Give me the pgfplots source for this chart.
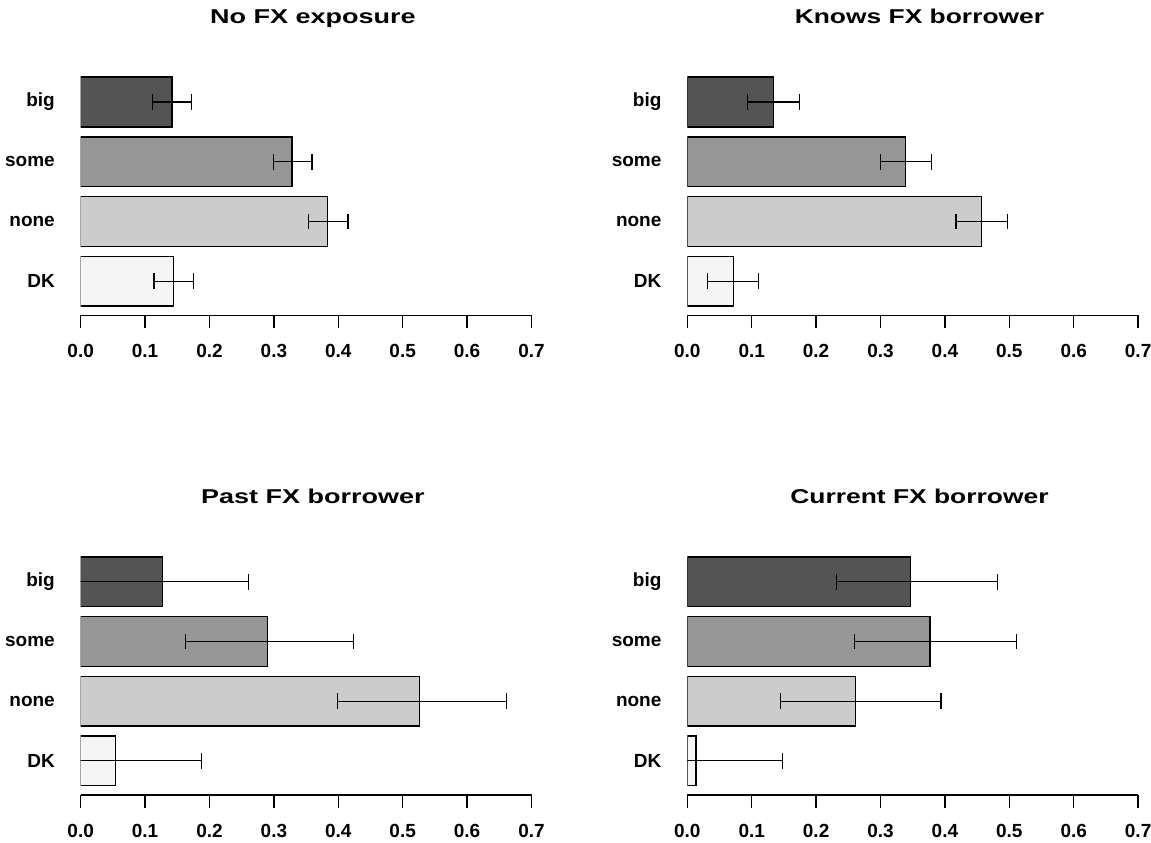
\documentclass[border=0pt]{standalone}
\usepackage{pgfplots}
\pgfplotsset{compat=1.18}
\usepackage{pgfplotstable}
\usepackage{graphicx}
\usepackage{fontspec}
\setmainfont{Liberation Sans}

\definecolor{cbig}{HTML}{545454}
\definecolor{csome}{HTML}{969696}
\definecolor{cnone}{HTML}{CCCCCC}
\definecolor{cdk}{HTML}{F5F5F5}

% rows: DK, none, some, big
\pgfplotstableread{
pos val lo hi
0   0.144  0.114  0.175
1.2 0.383  0.354  0.415
2.4 0.328  0.299  0.359
3.6 0.142  0.112  0.172
}\tabA
\pgfplotstableread{
pos val lo hi
0   0.0715 0.031  0.111
1.2 0.457  0.417  0.497
2.4 0.339  0.300  0.379
3.6 0.134  0.094  0.174
}\tabB
\pgfplotstableread{
pos val lo hi
0   0.054  -0.080 0.188
1.2 0.526  0.399  0.661
2.4 0.290  0.163  0.424
3.6 0.127  -0.007 0.261
}\tabC
\pgfplotstableread{
pos val lo hi
0   0.0135 -0.120 0.148
1.2 0.261  0.145  0.394
2.4 0.377  0.260  0.511
3.6 0.347  0.232  0.482
}\tabD

\newcommand{\onebar}[4]{%
  \addplot[xbar, bar shift=0pt, bar width=1, fill=#4, draw=black, line width=1.4pt,
    error bars/.cd, x dir=both, x explicit,
    error bar style={line width=1.1pt, black},
    error mark=|,
    error mark options={black, line width=1.3pt, mark size=7.8pt}]
  table[x=val, y=pos,
    x error plus expr=\thisrow{hi}-\thisrow{val},
    x error minus expr=\thisrow{val}-\thisrow{lo},
    skip coords between index={0}{#2},
    skip coords between index={#3}{4}] {#1};
}
\newcommand{\allbars}[1]{%
  \onebar{#1}{0}{1}{cdk}
  \onebar{#1}{1}{2}{cnone}
  \onebar{#1}{2}{3}{csome}
  \onebar{#1}{3}{4}{cbig}
}

\pgfplotsset{panel/.style={
  scale only axis, width=450.8pt, height=248.75pt,
  anchor=south west,
  xmin=0, xmax=0.7, ymin=-0.687, ymax=4.313,
  axis x line*=bottom, axis y line*=left,
  y axis line style={draw=none}, ytick style={draw=none},
  ytick={0,1.2,2.4,3.6}, yticklabels={DK,none,some,big},
  ytick align=inside,
  xtick={0,0.1,0.2,0.3,0.4,0.5,0.6,0.7},
  xtick align=outside, major tick length=12.7pt,
  xtick style={line width=1.3pt, black},
  x axis line style={line width=1.3pt, black},
  xticklabel style={inner sep=0pt, yshift=-16pt, /pgf/number format/.cd, fixed, fixed zerofill, precision=1, assume math mode=true},
  tick label style={font=\bfseries\fontsize{19}{19}\selectfont},
  yticklabel style={inner sep=0pt, xshift=-25.7pt},
  title style={font=\bfseries\fontsize{20}{20}\selectfont, anchor=base, at={(0.515,1)}, yshift=37.2pt, inner sep=0pt},
}}

\begin{document}
\begin{tikzpicture}
\path[use as bounding box] (0,0) rectangle (1151pt,843pt);
\begin{axis}[panel, at={(80.7pt,527.7pt)}, title={\scalebox{1.35}[1]{No FX exposure}}]
\allbars{\tabA}
\end{axis}
\begin{axis}[panel, at={(687.3pt,527.7pt)}, title={\scalebox{1.32}[1]{Knows FX borrower}}]
\allbars{\tabB}
\end{axis}
\begin{axis}[panel, at={(80.7pt,48pt)}, title={\scalebox{1.35}[1]{Past FX borrower}}]
\allbars{\tabC}
\end{axis}
\begin{axis}[panel, at={(687.3pt,48pt)}, title={\scalebox{1.32}[1]{Current FX borrower}}]
\allbars{\tabD}
\end{axis}
\end{tikzpicture}
\end{document}
